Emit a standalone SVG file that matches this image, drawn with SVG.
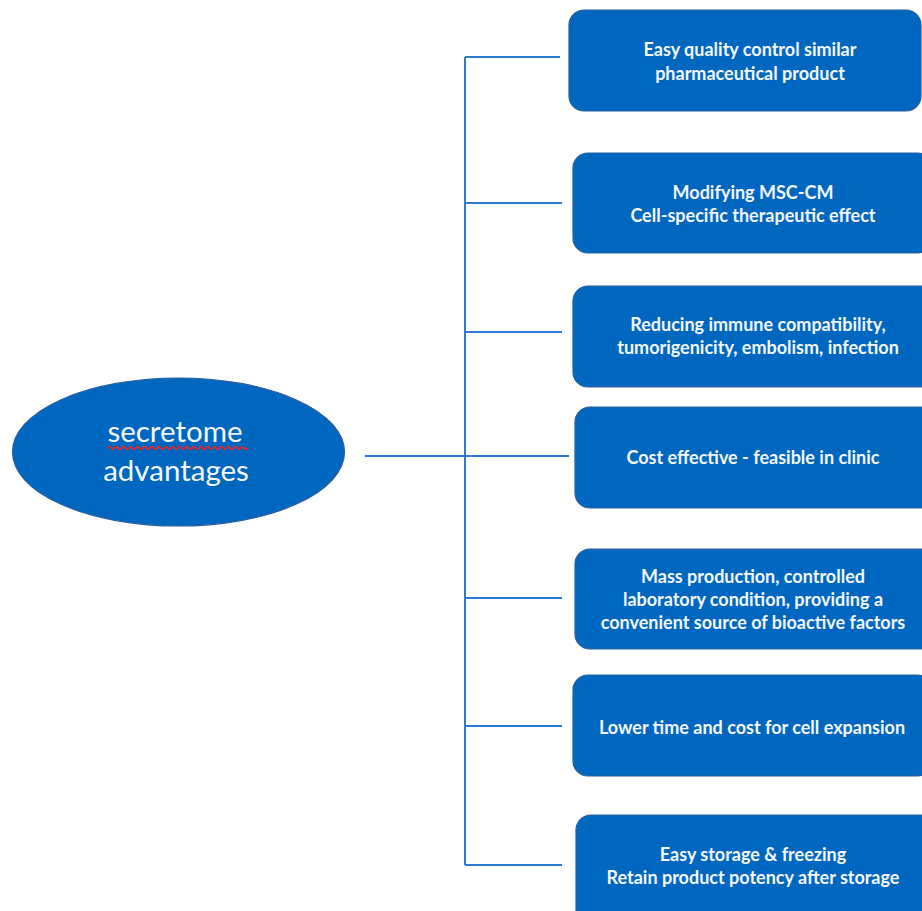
<svg xmlns="http://www.w3.org/2000/svg" width="922" height="911" viewBox="0 0 922 911">
  <style>
    .box { fill: #0067c0; stroke: #2a5f9e; stroke-width: 1.2; }
    .lbl { fill: #f4f7fb; font-family: Lato, "Liberation Sans", sans-serif; font-weight: bold; font-size: 18px; text-anchor: middle; }
    .big { fill: #f4f7fb; font-family: Lato, "Liberation Sans", sans-serif; font-size: 29.5px; text-anchor: middle; }
    .conn { stroke: #2f79d6; stroke-width: 2; fill: none; }
  </style>
  <rect width="922" height="911" fill="#ffffff"/>

  <g id="connectors">
    <line class="conn" x1="365" y1="456" x2="569" y2="456"/>
    <line class="conn" x1="465" y1="57" x2="465" y2="865"/>
    <line class="conn" x1="465" y1="57" x2="560" y2="57"/>
    <line class="conn" x1="465" y1="203" x2="562" y2="203"/>
    <line class="conn" x1="465" y1="332" x2="562" y2="332"/>
    <line class="conn" x1="465" y1="598" x2="562" y2="598"/>
    <line class="conn" x1="465" y1="726" x2="562" y2="726"/>
    <line class="conn" x1="465" y1="865" x2="562" y2="865"/>
  </g>

  <g id="root">
    <ellipse cx="178.5" cy="452" rx="166" ry="74" class="box"/>
    <text class="big" x="175" y="442">secretome</text>
    <path d="M108,448 q1.75,-2.6 3.5,0 t3.5,0 t3.5,0 t3.5,0 t3.5,0 t3.5,0 t3.5,0 t3.5,0 t3.5,0 t3.5,0 t3.5,0 t3.5,0 t3.5,0 t3.5,0 t3.5,0 t3.5,0 t3.5,0 t3.5,0 t3.5,0 t3.5,0 t3.5,0 t3.5,0 t3.5,0 t3.5,0 t3.5,0 t3.5,0 t3.5,0 t3.5,0 t3.5,0 t3.5,0 t3.5,0 t3.5,0 t3.5,0 t3.5,0 t3.5,0 t3.5,0 t3.5,0 t3.5,0 t3.5,0 t3.5,0" fill="none" stroke="#e3262b" stroke-width="1.7"/>
    <text class="big" x="176" y="481">advantages</text>
  </g>

  <g id="n1">
    <rect class="box" x="569" y="10" width="352" height="101" rx="15"/>
    <text class="lbl" x="750" y="56">Easy quality control similar</text>
    <text class="lbl" x="750" y="80">pharmaceutical product</text>
  </g>
  <g id="n2">
    <rect class="box" x="573" y="153" width="360" height="100" rx="15"/>
    <text class="lbl" x="753" y="199">Modifying MSC-CM</text>
    <text class="lbl" x="753" y="222">Cell-specific therapeutic effect</text>
  </g>
  <g id="n3">
    <rect class="box" x="573" y="286" width="370" height="101" rx="15"/>
    <text class="lbl" x="758" y="331">Reducing immune compatibility,</text>
    <text class="lbl" x="758" y="354">tumorigenicity, embolism, infection</text>
  </g>
  <g id="n4">
    <rect class="box" x="575" y="407" width="360" height="101" rx="15"/>
    <text class="lbl" x="753" y="464">Cost effective - feasible in clinic</text>
  </g>
  <g id="n5">
    <rect class="box" x="575" y="549" width="360" height="100" rx="15"/>
    <text class="lbl" x="753" y="583">Mass production, controlled</text>
    <text class="lbl" x="753" y="606">laboratory condition, providing a</text>
    <text class="lbl" x="753" y="629">convenient source of bioactive factors</text>
  </g>
  <g id="n6">
    <rect class="box" x="573" y="675" width="360" height="101" rx="15"/>
    <text class="lbl" x="752" y="734">Lower time and cost for cell expansion</text>
  </g>
  <g id="n7">
    <rect class="box" x="576" y="815" width="360" height="110" rx="15"/>
    <text class="lbl" x="753" y="861">Easy storage &amp; freezing</text>
    <text class="lbl" x="753" y="884">Retain product potency after storage</text>
  </g>
</svg>
